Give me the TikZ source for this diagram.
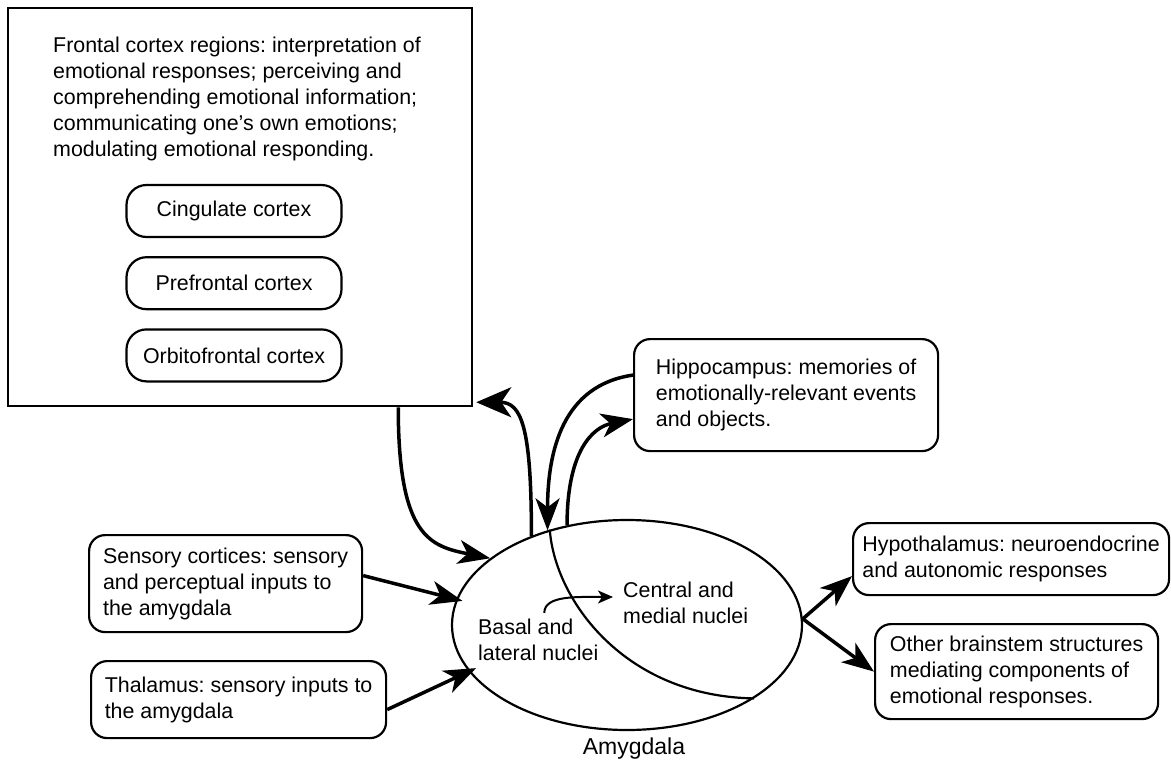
\documentclass[tikz,border=0pt]{standalone}
\usepackage{fontspec}
\setmainfont{Liberation Sans}
\usetikzlibrary{positioning,shapes.geometric,arrows.meta}
\frenchspacing

\begin{document}
\begin{tikzpicture}[x=1pt,y=-1pt,>={Stealth[length=32pt,width=24pt,inset=9pt]},
        font=\fontsize{21.4}{26}\selectfont,
        box/.style={draw,line width=2.2pt,rounded corners=16pt,align=left,anchor=north west},
        region/.style={draw,line width=2.2pt,rounded corners=20pt,minimum width=215pt,minimum height=52pt},
        link/.style={->,line width=3.5pt}]
        \useasboundingbox (0,0) rectangle (1171,766);
        % frontal cortex block
        \node[draw,line width=2.5pt,minimum width=464pt,minimum height=398pt] (frontal) at (240,207) {};
        \node[anchor=north west,align=left,inner sep=0pt] (frontaltxt) at (53,37) {Frontal cortex regions: interpretation of\\ emotional responses; perceiving and\\ comprehending emotional information;\\ communicating one’s own emotions;\\ modulating emotional responding.};
        \node[region] (cing) at (234,211) {Cingulate cortex};
        \node[region,below=18pt of cing] (pref) {Prefrontal cortex};
        \node[region,below=18pt of pref] (orbito) {Orbitofrontal cortex};
        % other boxes
        \node[box,minimum width=304pt,minimum height=112pt] (hippo) at (633,338) {Hippocampus: memories of\\ emotionally-relevant events\\ and objects.};
        \node[box,minimum width=273pt,minimum height=97pt] (sensory) at (88,534) {Sensory cortices: sensory\\ and perceptual inputs to\\ the amygdala};
        \node[box,minimum width=295pt,minimum height=77pt] (thal) at (90,660) {Thalamus: sensory inputs to\\ the amygdala};
        \node[box,minimum width=316pt,minimum height=72pt] (hypo) at (852,522) {Hypothalamus: neuroendocrine\\ and autonomic responses};
        \node[box,minimum width=283pt,minimum height=95pt] (other) at (874,623) {Other brainstem structures\\ mediating components of\\ emotional responses.};
        % amygdala
        \node[ellipse,draw,line width=2.2pt,minimum width=350pt,minimum height=210pt,inner sep=0pt] (amyg) at (627,625) {};
        \node[font=\fontsize{23}{27}\selectfont] (amyglabel) at (634,749) {Amygdala};
        \node[align=left,inner sep=0pt,anchor=west] (basal) at (478,640) {Basal and\\ lateral nuclei};
        \node[align=left,inner sep=0pt,anchor=west] (central) at (623,603) {Central and\\ medial nuclei};
        \draw[line width=2.2pt] (amyg.129) .. controls +(5,70) and +(-130,-2) .. (amyg.-30);
        \draw[->,line width=2pt,>={Stealth[length=15pt,width=13pt,inset=4pt]}] ([xshift=6pt,yshift=6pt]basal.north) .. controls +(0,-18) and +(-35,0) .. ([xshift=-10pt,yshift=6pt]central.west);
        % connections
        \draw[link] ([xshift=-75pt]frontal.south east) .. controls +(0,130) and +(-60,-12) .. (amyg.154);
        \draw[link,>={Stealth[length=35pt,width=30pt,inset=10pt]}] (amyg.137) .. controls +(0,-110) and +(45,0) .. ([xshift=3pt,yshift=5pt]frontal.south east);
        \draw[link] ([yshift=20pt]hippo.west) .. controls +(-70,10) and +(0,-80) .. (amyg.130);
        \draw[link] (amyg.121) .. controls +(0,-75) and +(-40,8) .. ([yshift=-24pt]hippo.west);
        \draw[link] ([yshift=8pt]sensory.east) -- ([xshift=7pt]amyg.172);
        \draw[link] ([yshift=-10pt]thal.east) -- ([xshift=10pt]amyg.195);
        \draw[link] (amyg.2) -- ([yshift=-17pt]hypo.west);
        \draw[link] (amyg.2) -- (other.west);
    \end{tikzpicture}
\end{document}
